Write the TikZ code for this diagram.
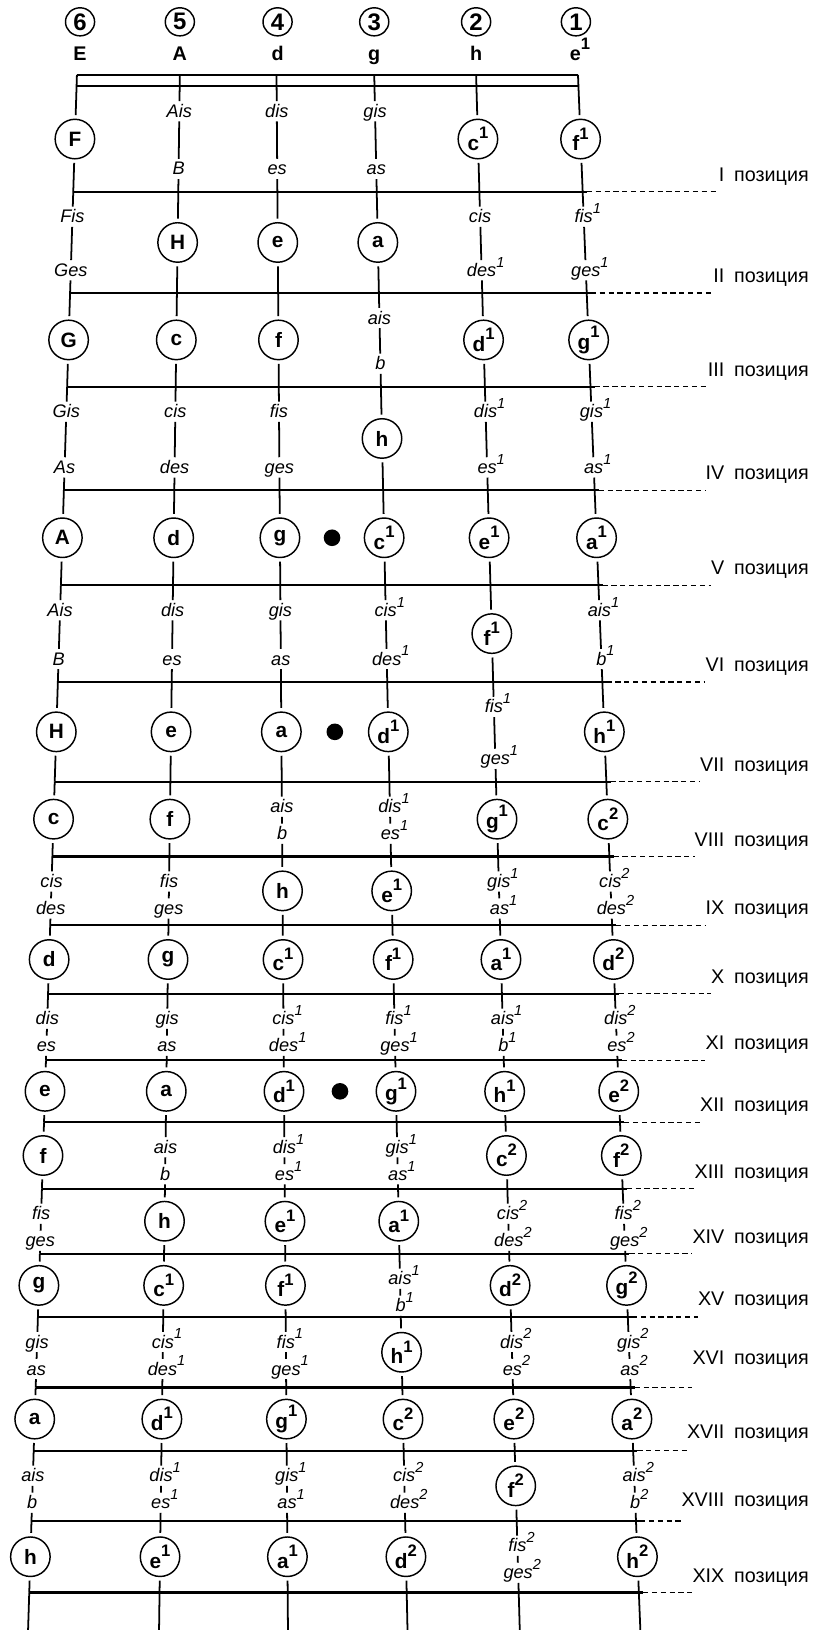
\documentclass[tikz,border=0pt]{standalone}
\usepackage{fontspec}
\setmainfont{Liberation Sans}
\usetikzlibrary{shapes.geometric,calc}
\newcommand\nsC[1]{\raisebox{0.55em}{\fontsize{16}{16}\selectfont #1}}
\newcommand\nsL[1]{\rlap{\raisebox{0.5em}{\fontsize{14}{14}\selectfont #1}}}
\def\FY{{83,184.5,282,372,471.6,563,656,752,824,890,956,1020,1079.6,1143.5,1206,1267,1334.6,1395.6,1463,1532}}
\def\XT{{74,173,266,360,458,556}}
\def\XB{{27,153,277,392,500,616}}
\newcommand\getx[2]{\pgfmathsetmacro\gx{\XT[#1-1]+(\XB[#1-1]-\XT[#1-1])*((#2-72)/1496)}}
\tikzset{
 str/.style={line width=1.7pt},
 fret/.style={line width=2.2pt},
 dsh/.style={line width=1.3pt, dash pattern=on 5pt off 3.5pt},
 circ/.style={circle, draw, line width=1.4pt, minimum size=38pt, inner sep=0pt, outer sep=4pt, font=\bfseries\fontsize{20}{20}\selectfont},
 lab/.style={inner sep=0pt, outer sep=3pt, text height=12.5pt, text depth=1pt, font=\itshape\fontsize{17.5}{17.5}\selectfont},
 rlab/.style={inner sep=0pt, font=\fontsize{19}{19}\selectfont},
 hnum/.style={ellipse, draw, line width=1.4pt, minimum width=28pt, minimum height=27pt, inner sep=0pt, font=\bfseries\fontsize{23}{23}\selectfont},
 hlet/.style={inner sep=0pt, anchor=base, font=\bfseries\fontsize{19}{19}\selectfont},
 dotn/.style={circle, fill, minimum size=16pt, inner sep=0pt},
}
\begin{document}
\begin{tikzpicture}[x=1pt,y=-1pt]
\useasboundingbox (0,0) rectangle (793,1568);
% fret coordinates on strings (1 = leftmost string 6)
\foreach \k in {0,...,19}{
  \ifnum\k=0 \def\yy{72}\else \pgfmathsetmacro\yy{\FY[\k]}\fi
  \foreach \i in {1,...,6}{
    \getx{\i}{\yy}
    \coordinate (f-\k-\i) at (\gx,\yy);
  }
}
\foreach \i in {1,6}{\getx{\i}{83}\coordinate (nb-\i) at (\gx,83);}
\foreach \i in {1,...,6}{\getx{\i}{1568}\coordinate (e-\i) at (\gx,1568);}
% header
\foreach \i/\num/\xx in {1/6/77,2/5/173,3/4/267,4/3/360,5/2/458,6/1/554}{
  \node[hnum] (hc-\i) at (\xx,21) {\num};
}
\foreach \i/\nm/\xx in {1/E/77,2/A/173,3/d/267,4/g/360,5/h/458,6/e\nsC{1}/558}{
  \node[hlet] (hl-\i) at (\xx,58.5) {\nm};
}
% nut
\draw[fret] (f-0-1) -- (f-0-6);
\draw[fret] (nb-1) -- (nb-6);
% frets and position labels
\foreach \k/\R/\off in {1/I/10,2/II/10,3/III/10,4/IV/10,5/V/10,6/VI/10,7/VII/10,8/VIII/10,9/IX/10,10/X/10,11/XI/10,12/XII/10,13/XIII/10,14/XIV/10,15/XV/11,16/XVI/22,17/XVII/12,18/XVIII/14,19/XIX/10}{
  \draw[fret] (f-\k-1) -- ([xshift=4pt]f-\k-6);
  \pgfmathsetmacro\yy{\FY[\k]-\off}
  \node[rlab,anchor=base east] (r-\k) at (697,\yy) {\R};
  \node[rlab,anchor=base west] (p-\k) at (706,\yy) {позиция};
  \draw[dsh] ([xshift=4pt]f-\k-6) -- (r-\k.west |- f-\k-6);
}
% notes
\foreach \k/\row in {
 1/{c/F/x,p/Ais/B,p/dis/es,p/gis/as,c/c\nsC{1}/x,c/f\nsC{1}/x},
 2/{p/Fis/Ges,c/H/x,c/e/x,c/a/x,p/cis/des\nsL{1},p/fis\nsL{1}/ges\nsL{1}},
 3/{c/G/x,c/c/x,c/f/x,p/ais/b,c/d\nsC{1}/x,c/g\nsC{1}/x},
 4/{p/Gis/As,p/cis/des,p/fis/ges,c/h/x,p/dis\nsL{1}/es\nsL{1},p/gis\nsL{1}/as\nsL{1}},
 5/{c/A/x,c/d/x,c/g/x,c/c\nsC{1}/x,c/e\nsC{1}/x,c/a\nsC{1}/x},
 6/{p/Ais/B,p/dis/es,p/gis/as,p/cis\nsL{1}/des\nsL{1},c/f\nsC{1}/x,p/ais\nsL{1}/b\nsL{1}},
 7/{c/H/x,c/e/x,c/a/x,c/d\nsC{1}/x,p/fis\nsL{1}/ges\nsL{1},c/h\nsC{1}/x},
 8/{c/c/x,c/f/x,p/ais/b,p/dis\nsL{1}/es\nsL{1},c/g\nsC{1}/x,c/c\nsC{2}/x},
 9/{p/cis/des,p/fis/ges,c/h/x,c/e\nsC{1}/x,p/gis\nsL{1}/as\nsL{1},p/cis\nsL{2}/des\nsL{2}},
 10/{c/d/x,c/g/x,c/c\nsC{1}/x,c/f\nsC{1}/x,c/a\nsC{1}/x,c/d\nsC{2}/x},
 11/{p/dis/es,p/gis/as,p/cis\nsL{1}/des\nsL{1},p/fis\nsL{1}/ges\nsL{1},p/ais\nsL{1}/b\nsL{1},p/dis\nsL{2}/es\nsL{2}},
 12/{c/e/x,c/a/x,c/d\nsC{1}/x,c/g\nsC{1}/x,c/h\nsC{1}/x,c/e\nsC{2}/x},
 13/{c/f/x,p/ais/b,p/dis\nsL{1}/es\nsL{1},p/gis\nsL{1}/as\nsL{1},c/c\nsC{2}/x,c/f\nsC{2}/x},
 14/{p/fis/ges,c/h/x,c/e\nsC{1}/x,c/a\nsC{1}/x,p/cis\nsL{2}/des\nsL{2},p/fis\nsL{2}/ges\nsL{2}},
 15/{c/g/x,c/c\nsC{1}/x,c/f\nsC{1}/x,p/ais\nsL{1}/b\nsL{1},c/d\nsC{2}/x,c/g\nsC{2}/x},
 16/{p/gis/as,p/cis\nsL{1}/des\nsL{1},p/fis\nsL{1}/ges\nsL{1},c/h\nsC{1}/x,p/dis\nsL{2}/es\nsL{2},p/gis\nsL{2}/as\nsL{2}},
 17/{c/a/x,c/d\nsC{1}/x,c/g\nsC{1}/x,c/c\nsC{2}/x,c/e\nsC{2}/x,c/a\nsC{2}/x},
 18/{p/ais/b,p/dis\nsL{1}/es\nsL{1},p/gis\nsL{1}/as\nsL{1},p/cis\nsL{2}/des\nsL{2},c/f\nsC{2}/x,p/ais\nsL{2}/b\nsL{2}},
 19/{c/h/x,c/e\nsC{1}/x,c/a\nsC{1}/x,c/d\nsC{2}/x,p/fis\nsL{2}/ges\nsL{2},c/h\nsC{2}/x}}{
  \pgfmathsetmacro\yt{\FY[\k-1]}
  \pgfmathsetmacro\yb{\FY[\k]}
  \pgfmathtruncatemacro\km{\k-1}
  \pgfmathsetmacro\ym{(\yt+\yb)/2}
  \pgfmathsetmacro\yu{\yt+24}
  \pgfmathsetmacro\yl{\yt+max(\yb-\yt-22,50)}
  \foreach \ty/\a/\b [count=\i] in \row {
    \if\ty c
      \getx{\i}{\ym}
      \node[circ] (n-\k-\i) at (\gx,\ym) {\a};
      \draw[str] (f-\km-\i) -- (n-\k-\i);
      \draw[str] (n-\k-\i) -- (f-\k-\i);
    \else
      \getx{\i}{\yu}
      \node[lab] (u-\k-\i) at (\gx,\yu) {\a};
      \getx{\i}{\yl}
      \node[lab] (l-\k-\i) at (\gx,\yl) {\b};
      \draw[str] (f-\km-\i) -- (u-\k-\i);
      \draw[str] (u-\k-\i) -- (l-\k-\i);
      \draw[str] (l-\k-\i) -- (f-\k-\i);
    \fi
  }
}
% position dots
\foreach \k in {5,7,12}{
  \node[dotn] (dot-\k) at ($(n-\k-3)!0.5!(n-\k-4)$) {};
}
% string ends
\foreach \i in {1,...,6}{\draw[str] (f-19-\i) -- (e-\i);}
\end{tikzpicture}
\end{document}
